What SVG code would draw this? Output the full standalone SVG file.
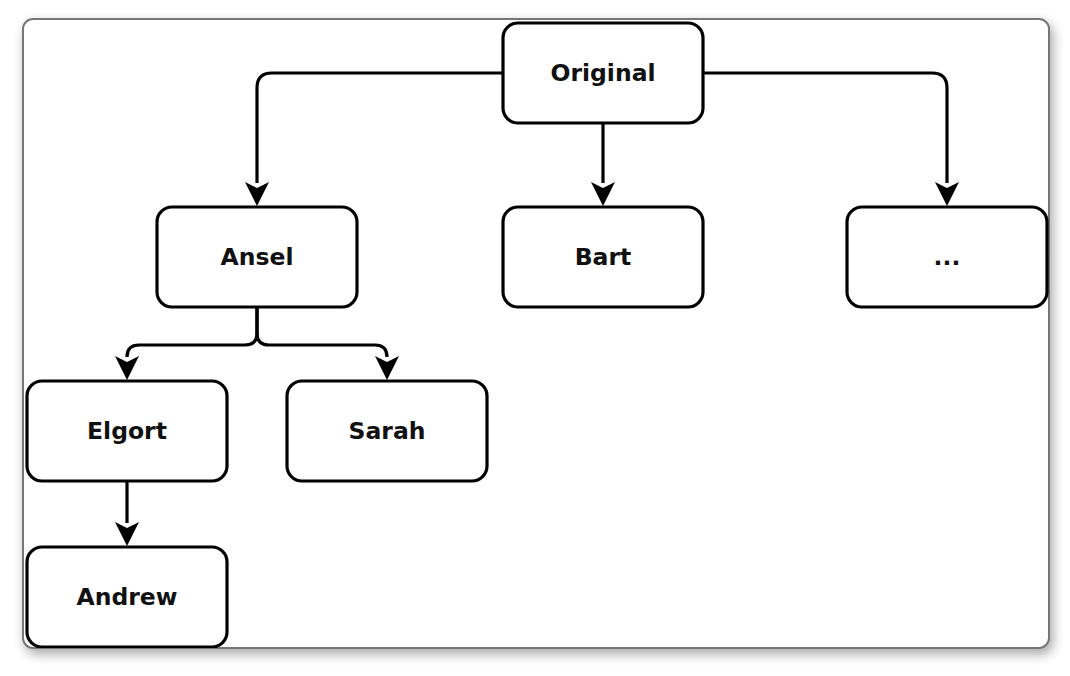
<svg xmlns="http://www.w3.org/2000/svg" width="1070" height="676" viewBox="0 0 1070 676">
<defs>
<filter id="sh" x="-5%" y="-5%" width="112%" height="115%">
<feGaussianBlur in="SourceAlpha" stdDeviation="6"/>
<feOffset dx="3" dy="5" result="b"/>
<feComponentTransfer><feFuncA type="linear" slope="0.35"/></feComponentTransfer>
<feMerge><feMergeNode/><feMergeNode in="SourceGraphic"/></feMerge>
</filter>
<clipPath id="clip"><rect x="23" y="19" width="1026" height="629" rx="10"/></clipPath>
<style>
.node rect{fill:#fff;stroke:#000;stroke-width:3.2}
.node text{font-family:"DejaVu Sans",Verdana,sans-serif;font-weight:bold;font-size:23.5px;text-anchor:middle;dominant-baseline:central;fill:#111}
.conn path{fill:none;stroke:#000;stroke-width:3.2}
.heads path{fill:#000}
</style>
</defs>
<rect x="23" y="19" width="1026" height="629" rx="10" fill="#fff" stroke="#777" stroke-width="2" filter="url(#sh)"/>
<g clip-path="url(#clip)">
<g class="conn">
<path d="M503,73 H272 Q257,73 257,88 V183"/>
<path d="M703,73 H932 Q947,73 947,88 V183"/>
<path d="M603,123 V183"/>
<path d="M257,307 V333 Q257,345 245,345 H139 Q127,345 127,357 V357"/>
<path d="M257,307 V333 Q257,345 269,345 H375 Q387,345 387,357 V357"/>
<path d="M127,481 V523"/>
</g>
<g class="heads">
<path d="M245,182 L257,188 L269,182 L257,206 Z"/>
<path d="M935,182 L947,188 L959,182 L947,206 Z"/>
<path d="M591,182 L603,188 L615,182 L603,206 Z"/>
<path d="M115,356 L127,362 L139,356 L127,380 Z"/>
<path d="M375,356 L387,362 L399,356 L387,380 Z"/>
<path d="M115,522 L127,528 L139,522 L127,546 Z"/>
</g>
<g id="original" class="node"><rect x="503" y="23" width="200" height="100" rx="15"/><text x="603" y="73">Original</text></g>
<g id="ansel" class="node"><rect x="157" y="207" width="200" height="100" rx="15"/><text x="257" y="257">Ansel</text></g>
<g id="bart" class="node"><rect x="503" y="207" width="200" height="100" rx="15"/><text x="603" y="257">Bart</text></g>
<g id="more" class="node"><rect x="847" y="207" width="200" height="100" rx="15"/><text x="947" y="257">...</text></g>
<g id="elgort" class="node"><rect x="27" y="381" width="200" height="100" rx="15"/><text x="127" y="431">Elgort</text></g>
<g id="sarah" class="node"><rect x="287" y="381" width="200" height="100" rx="15"/><text x="387" y="431">Sarah</text></g>
<g id="andrew" class="node"><rect x="27" y="547" width="200" height="100" rx="15"/><text x="127" y="597">Andrew</text></g>
</g>
</svg>
